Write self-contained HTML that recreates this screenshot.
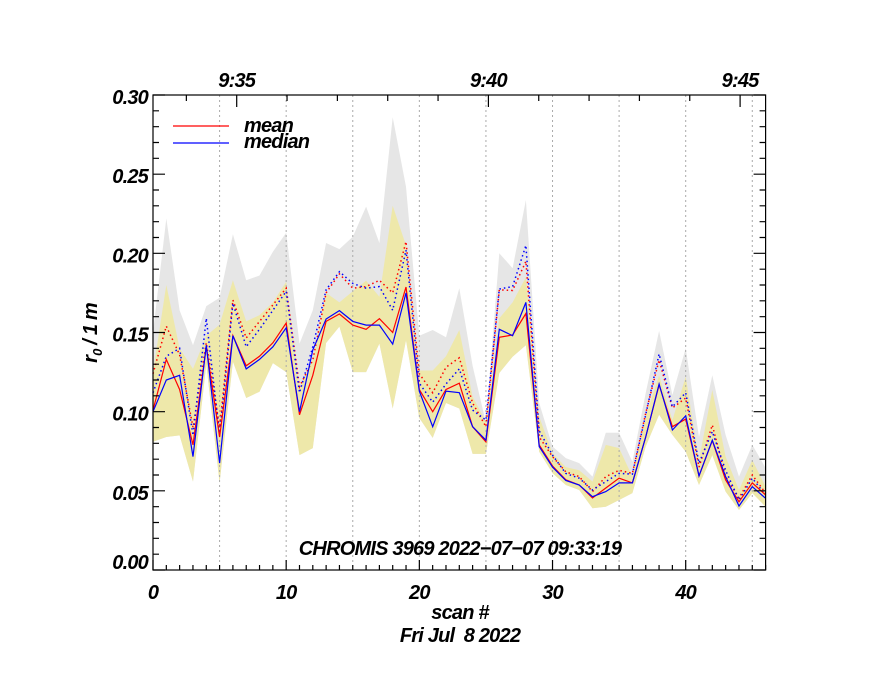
<!DOCTYPE html>
<html><head><meta charset="utf-8"><style>
html,body{margin:0;padding:0;background:#fff;}
svg{display:block;font-family:"Liberation Sans",sans-serif;font-weight:bold;font-style:italic;}
text{letter-spacing:-0.8px;}
</style></head><body>
<svg id="chart" width="880" height="680" viewBox="0 0 880 680" xmlns="http://www.w3.org/2000/svg">
<g id="bands"></g>
<g id="grid"></g>
<g id="lines"></g>
<g id="axes"></g>
<text x="460" y="555" font-size="20" text-anchor="middle">CHROMIS 3969 2022−07−07 09:33:19</text>
<text x="460" y="619" font-size="20" text-anchor="middle">scan #</text>
<text x="460" y="642" font-size="20" text-anchor="middle" xml:space="preserve">Fri Jul  8 2022</text>
<text transform="translate(97,333) rotate(-90)" font-size="20" text-anchor="middle">r<tspan font-size="13" dy="5">0</tspan><tspan dy="-5"> / 1 m</tspan></text>
<g>
<line x1="173" y1="126" x2="229" y2="126" stroke="#f00" stroke-width="1.2"/>
<text x="244" y="132" font-size="20">mean</text>
<line x1="173" y1="143" x2="229" y2="143" stroke="#00f" stroke-width="1.2"/>
<text x="244" y="148" font-size="20">median</text>
</g>
</svg>
<script>
const scans = Array.from({length:47},(_,i)=>i);
const meanVals = [0.101,0.133,0.114,0.079,0.141,0.084,0.148,0.129,0.135,0.1435,0.156,0.098,0.123,0.157,0.1617,0.1547,0.152,0.1587,0.150,0.1787,0.114,0.100,0.114,0.118,0.0905,0.081,0.147,0.1484,0.162,0.079,0.0657,0.057,0.0537,0.0455,0.0518,0.058,0.055,0.084,0.117,0.0905,0.0953,0.0594,0.0817,0.0569,0.0431,0.055,0.0474];
const medianVals = [0.100,0.120,0.123,0.0716,0.142,0.0675,0.148,0.127,0.133,0.141,0.153,0.100,0.139,0.1585,0.1638,0.157,0.1547,0.1547,0.1427,0.175,0.113,0.0905,0.113,0.112,0.0905,0.082,0.152,0.148,0.169,0.078,0.065,0.0565,0.0537,0.0463,0.0495,0.055,0.055,0.084,0.1175,0.0884,0.0973,0.0594,0.082,0.059,0.0404,0.0526,0.0453];
const meanDotVals = [0.124,0.154,0.136,0.090,0.1435,0.090,0.1705,0.1465,0.157,0.1674,0.178,0.1158,0.1326,0.175,0.187,0.178,0.179,0.183,0.175,0.2074,0.124,0.112,0.128,0.134,0.1055,0.0905,0.177,0.1765,0.195,0.084,0.0716,0.062,0.059,0.0495,0.059,0.063,0.061,0.099,0.1326,0.1023,0.1086,0.065,0.0916,0.059,0.0455,0.060,0.0486];
const medianDotVals = [0.112,0.135,0.140,0.085,0.159,0.085,0.1685,0.141,0.152,0.164,0.176,0.112,0.141,0.177,0.1884,0.181,0.178,0.179,0.164,0.202,0.118,0.106,0.1175,0.127,0.101,0.0947,0.1775,0.179,0.205,0.088,0.0726,0.061,0.058,0.0505,0.0558,0.061,0.0606,0.098,0.1364,0.103,0.112,0.0675,0.0874,0.063,0.0442,0.058,0.0474];
const greyUpper = [0.15,0.222,0.164,0.142,0.1667,0.172,0.212,0.183,0.186,0.201,0.213,0.143,0.164,0.2065,0.2027,0.2105,0.2295,0.2065,0.286,0.242,0.148,0.1516,0.147,0.178,0.129,0.093,0.200,0.1906,0.2337,0.1055,0.078,0.0707,0.0675,0.059,0.0867,0.0867,0.0684,0.1118,0.151,0.1105,0.140,0.084,0.123,0.0853,0.059,0.079,0.0644];
const yellowUpper = [0.125,0.180,0.140,0.127,0.148,0.155,0.183,0.157,0.161,0.169,0.182,0.115,0.133,0.175,0.169,0.176,0.1827,0.1726,0.230,0.205,0.126,0.126,0.135,0.1516,0.1095,0.0937,0.159,0.169,0.185,0.0968,0.0737,0.065,0.063,0.0558,0.079,0.077,0.059,0.097,0.123,0.0947,0.122,0.0695,0.1137,0.0716,0.0505,0.0695,0.0526];
const yellowLower = [0.081,0.084,0.085,0.0558,0.13,0.055,0.1316,0.1086,0.1126,0.1307,0.125,0.0726,0.077,0.1434,0.1537,0.125,0.125,0.143,0.102,0.145,0.096,0.0834,0.1055,0.102,0.0733,0.0733,0.1244,0.1347,0.142,0.0747,0.0612,0.0537,0.0505,0.039,0.040,0.0442,0.0486,0.078,0.098,0.0853,0.0747,0.0537,0.0726,0.0495,0.0379,0.0486,0.040];
const yTickLabels = ["0.00","0.05","0.10","0.15","0.20","0.25","0.30"];
const xTickLabels = ["0","10","20","30","40"];
const timeLabels = ["9:35","9:40","9:45"];

const NS="http://www.w3.org/2000/svg";
const L=153,R=765.6,T=95,B=570,XMAX=46,YMAX=0.30;
const xs=v=>L+(R-L)*v/XMAX;
const ys=v=>B-(B-T)*v/YMAX;
function mk(tag,parent,attrs){const e=document.createElementNS(NS,tag);for(const k in attrs)e.setAttribute(k,attrs[k]);parent.appendChild(e);return e;}
const bands=document.getElementById('bands'),grid=document.getElementById('grid'),lines=document.getElementById('lines'),axes=document.getElementById('axes');

function bandPath(up,lo){let d='';scans.forEach((s,i)=>{d+=(i?'L':'M')+xs(s).toFixed(1)+','+ys(up[i]).toFixed(1);});for(let i=scans.length-1;i>=0;i--)d+='L'+xs(scans[i]).toFixed(1)+','+ys(lo[i]).toFixed(1);return d+'Z';}
let p=mk('path',bands,{d:bandPath(greyUpper,yellowLower),fill:'#e6e6e6'});


p=mk('path',bands,{d:bandPath(yellowUpper,yellowLower),fill:'#eee8aa'});



for(let s=5;s<XMAX;s+=5){const g=mk('line',grid,{x1:xs(s),x2:xs(s),y1:T,y2:B,stroke:'#aaa','stroke-width':1,'stroke-dasharray':'2,3'});

}

function line(vals,color,dash,name){let d='';scans.forEach((s,i)=>{d+=(i?'L':'M')+xs(s).toFixed(1)+','+ys(vals[i]).toFixed(1);});
const e=mk('path',lines,{d:d,fill:'none',stroke:color,'stroke-width':dash?1.5:1.2});
if(dash){e.setAttribute('stroke-dasharray','1.5,3');}

}
line(meanDotVals,'#f00',true,'mean-dotted-line');
line(medianDotVals,'#00f',true,'median-dotted-line');
line(meanVals,'#f00',false,'mean-line');
line(medianVals,'#00f',false,'median-line');

const fr=mk('rect',axes,{x:L,y:T,width:R-L,height:B-T,fill:'none',stroke:'#000','stroke-width':1.2});


let td='';
for(let k=0;k<=30;k++){const y=ys(k/100);const len=(k%5===0)?12:6;td+=`M${L},${y}h${len}M${R},${y}h${-len}`;}
for(let s=0;s<=XMAX;s++){const x=xs(s);const len=(s%10===0)?10:5;td+=`M${x},${B}v${-len}`;}
const minPx=251.7/5;
for(let m=-1;m<=11;m++){const x=236.7+m*minPx;if(x<=L||x>=R)continue;const len=(m%5===0)?12:6;td+=`M${x},${T}v${len}`;}
const tk=mk('path',axes,{d:td,stroke:'#000','stroke-width':1.2,fill:'none'});


yTickLabels.forEach((t,i)=>{const v=parseFloat(t);const y=v===0?ys(0)-1:ys(v)+9;const e=mk('text',axes,{x:148,y:y,'font-size':20,'text-anchor':'end'});e.textContent=t;

});
xTickLabels.forEach(t=>{const e=mk('text',axes,{x:xs(parseFloat(t)),y:599,'font-size':20,'text-anchor':'middle'});e.textContent=t;

});
timeLabels.forEach((t,i)=>{const e=mk('text',axes,{x:236.7+i*251.7,y:87,'font-size':20,'text-anchor':'middle'});e.textContent=t;

});
</script>
</body></html>
